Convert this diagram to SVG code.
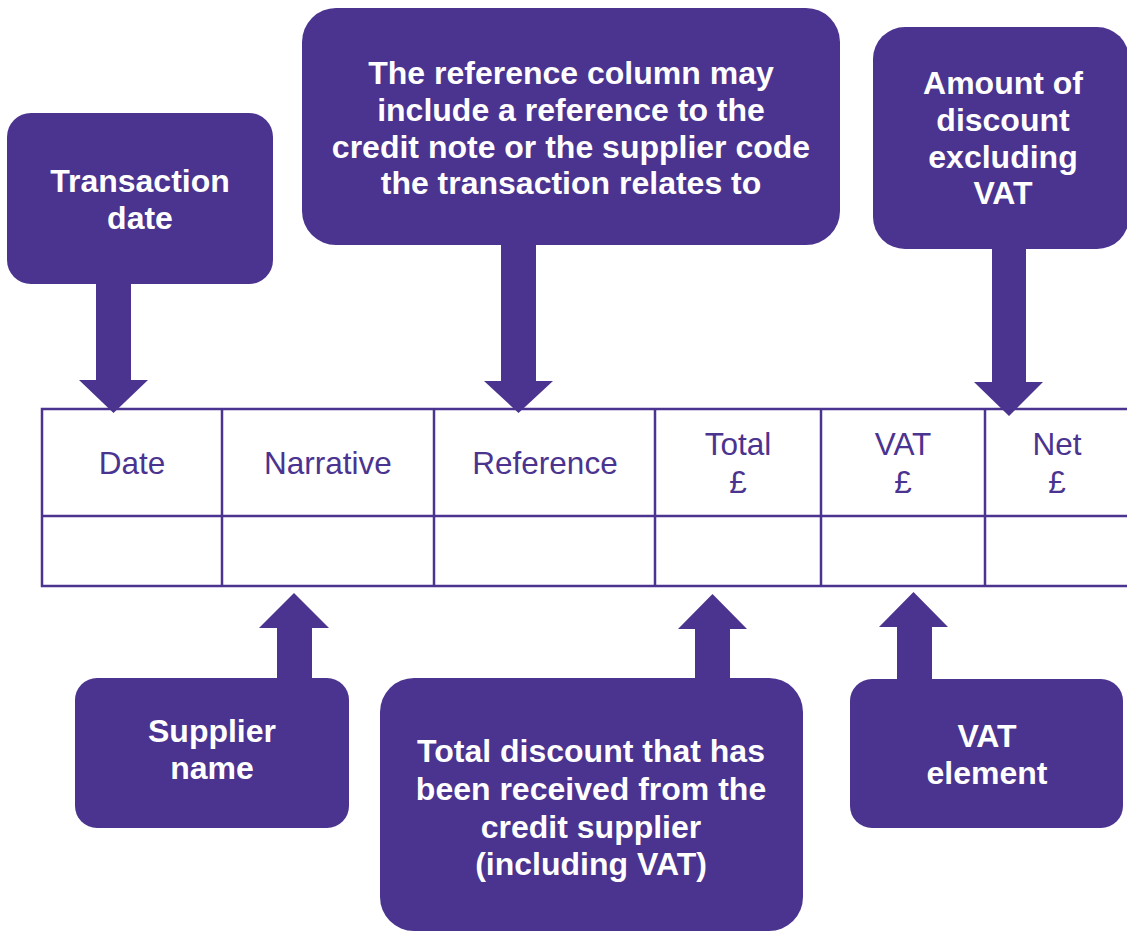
<svg xmlns="http://www.w3.org/2000/svg" width="1127" height="931" viewBox="0 0 1127 931">
<style>
.box{fill:#4b3390;}
.arrow{fill:#4b3390;}
.lbl{fill:#ffffff;font-family:"Liberation Sans",Arial,sans-serif;font-weight:bold;font-size:32px;text-anchor:middle;}
.cell{fill:none;stroke:#4b3390;stroke-width:2.5;}
.hdr{fill:#4b3390;font-family:"Liberation Sans",Arial,sans-serif;font-size:31.5px;text-anchor:middle;}
</style>
<rect width="1127" height="931" fill="#ffffff"/>

<g id="table">
  <rect class="cell" x="42" y="409" width="1100" height="177"/>
  <line class="cell" x1="42" y1="516" x2="1142" y2="516"/>
  <line class="cell" x1="222" y1="409" x2="222" y2="586"/>
  <line class="cell" x1="434" y1="409" x2="434" y2="586"/>
  <line class="cell" x1="655" y1="409" x2="655" y2="586"/>
  <line class="cell" x1="821" y1="409" x2="821" y2="586"/>
  <line class="cell" x1="985" y1="409" x2="985" y2="586"/>
  <text class="hdr" x="132" y="474">Date</text>
  <text class="hdr" x="328" y="474">Narrative</text>
  <text class="hdr" x="545" y="474">Reference</text>
  <text class="hdr" x="738" y="455">Total</text>
  <text class="hdr" x="738" y="493">£</text>
  <text class="hdr" x="903" y="455">VAT</text>
  <text class="hdr" x="903" y="493">£</text>
  <text class="hdr" x="1057" y="455">Net</text>
  <text class="hdr" x="1057" y="493">£</text>
</g>

<g id="connectors">
  <polygon class="arrow" points="96,280 131,280 131,380 148,380 113.5,413 79,380 96,380"/>
  <polygon class="arrow" points="501,240 536,240 536,381 553,381 518.5,413 484,381 501,381"/>
  <polygon class="arrow" points="992,244 1026,244 1026,382 1043,382 1009,416 974,382 992,382"/>
  <polygon class="arrow" points="294,593 329,628 312,628 312,684 277,684 277,628 259,628"/>
  <polygon class="arrow" points="712.5,594 747,629 730,629 730,684 695,684 695,629 678,629"/>
  <polygon class="arrow" points="913.5,592 948,627 932,627 932,685 897,685 897,627 879,627"/>
</g>

<g id="node-transaction-date">
  <rect class="box" x="7" y="113" width="266" height="171" rx="24" ry="24"/>
  <text class="lbl" x="140" y="192">Transaction</text>
  <text class="lbl" x="140" y="229">date</text>
</g>

<g id="node-reference-note">
  <rect class="box" x="302" y="8" width="538" height="237" rx="34" ry="34"/>
  <text class="lbl" x="571" y="84">The reference column may</text>
  <text class="lbl" x="571" y="121">include a reference to the</text>
  <text class="lbl" x="571" y="158">credit note or the supplier code</text>
  <text class="lbl" x="571" y="194">the transaction relates to</text>
</g>

<g id="node-amount-discount">
  <rect class="box" x="873" y="27" width="256" height="222" rx="32" ry="32"/>
  <text class="lbl" x="1003" y="94">Amount of</text>
  <text class="lbl" x="1003" y="131">discount</text>
  <text class="lbl" x="1003" y="168">excluding</text>
  <text class="lbl" x="1003" y="204">VAT</text>
</g>

<g id="node-supplier-name">
  <rect class="box" x="75" y="678" width="274" height="150" rx="22" ry="22"/>
  <text class="lbl" x="212" y="742">Supplier</text>
  <text class="lbl" x="212" y="779">name</text>
</g>

<g id="node-total-discount">
  <rect class="box" x="380" y="678" width="423" height="253" rx="34" ry="34"/>
  <text class="lbl" x="591" y="762">Total discount that has</text>
  <text class="lbl" x="591" y="800">been received from the</text>
  <text class="lbl" x="591" y="838">credit supplier</text>
  <text class="lbl" x="591" y="875">(including VAT)</text>
</g>

<g id="node-vat-element">
  <rect class="box" x="850" y="679" width="273" height="149" rx="22" ry="22"/>
  <text class="lbl" x="987" y="747">VAT</text>
  <text class="lbl" x="987" y="784">element</text>
</g>
</svg>
